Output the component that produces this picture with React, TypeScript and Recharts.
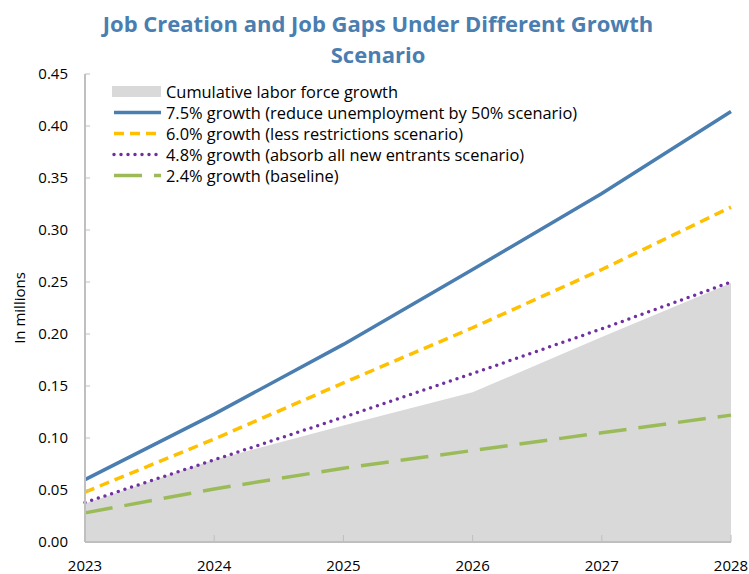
import {
  ComposedChart,
  Area,
  Line,
  XAxis,
  YAxis,
  Legend,
  Label,
} from 'recharts'

const YEARS = ['2023', '2024', '2025', '2026', '2027', '2028']
const LABOR_FORCE = [0.037, 0.079, 0.112, 0.144, 0.197, 0.249]
const GROWTH_75 = [0.06, 0.123, 0.19, 0.262, 0.335, 0.414]
const GROWTH_60 = [0.048, 0.099, 0.153, 0.206, 0.262, 0.322]
const GROWTH_48 = [0.038, 0.079, 0.12, 0.162, 0.205, 0.25]
const GROWTH_24 = [0.028, 0.051, 0.071, 0.088, 0.105, 0.122]
const Y_TICKS = [0, 0.05, 0.1, 0.15, 0.2, 0.25, 0.3, 0.35, 0.4, 0.45]

const FONT = '"Open Sans", "Noto Sans", sans-serif'
const AXIS_GRAY = '#bfbfbf'

const LINES = [
  { key: 'g75', name: '7.5% growth (reduce unemployment by 50% scenario)', color: '#4a7eb0', dash: undefined, cap: 'butt' },
  { key: 'g60', name: '6.0% growth (less restrictions scenario)', color: '#ffc000', dash: '10 6', cap: 'butt' },
  { key: 'g48', name: '4.8% growth (absorb all new entrants scenario)', color: '#7030a0', dash: '0 7', cap: 'round' },
  { key: 'g24', name: '2.4% growth (baseline)', color: '#9bbb59', dash: '28 12', cap: 'butt' },
]

const data = YEARS.map((year, i) => ({
  year,
  labor: LABOR_FORCE[i],
  g75: GROWTH_75[i],
  g60: GROWTH_60[i],
  g48: GROWTH_48[i],
  g24: GROWTH_24[i],
}))

function LegendBox() {
  return (
    <div style={{ fontFamily: FONT, fontSize: 16.4, lineHeight: '21px', color: '#000', whiteSpace: 'nowrap' }}>
      <div style={{ display: 'flex', alignItems: 'center', height: 21 }}>
        <svg width={50} height={21}>
          <rect x={0} y={5} width={49} height={11} fill="#d9d9d9" />
        </svg>
        <span style={{ marginLeft: 4 }}>Cumulative labor force growth</span>
      </div>
      {LINES.map((s) => (
        <div key={s.key} style={{ display: 'flex', alignItems: 'center', height: 21 }}>
          <svg width={50} height={21}>
            <line
              x1={2}
              x2={49}
              y1={10.5}
              y2={10.5}
              stroke={s.color}
              strokeWidth={3.5}
              strokeDasharray={s.dash}
              strokeLinecap={s.cap as any}
            />
          </svg>
          <span style={{ marginLeft: 4 }}>{s.name}</span>
        </div>
      ))}
    </div>
  )
}

export default function App() {
  return (
    <div style={{ position: 'absolute', left: 0, top: 0, width: 749, height: 574, background: '#fff' }}>
      <div
        style={{
          position: 'absolute',
          top: 8,
          left: 0,
          width: 756,
          textAlign: 'center',
          fontFamily: FONT,
          fontWeight: 700,
          fontSize: 22,
          lineHeight: '31px',
          color: '#4a7eb0',
        }}
      >
        Job Creation and Job Gaps Under Different Growth
        <br />
        Scenario
      </div>
      <ComposedChart
        width={749}
        height={574}
        data={data}
        margin={{ top: 74, right: 18, bottom: 0, left: 0 }}
        style={{ fontFamily: FONT }}
      >
        <XAxis
          dataKey="year"
          scale="point"
          padding={{ left: 0, right: 0 }}
          height={32}
          interval={0}
          axisLine={{ stroke: AXIS_GRAY, strokeWidth: 2 }}
          tickLine={{ stroke: AXIS_GRAY, strokeWidth: 1 }}
          tickSize={-7}
          tickMargin={25}
          tick={{ fill: '#000', fontSize: 15 }}
        />
        <XAxis
          xAxisId="top"
          dataKey="year"
          orientation="top"
          scale="point"
          height={0}
          tick={false}
          tickLine={false}
          axisLine={{ stroke: AXIS_GRAY, strokeWidth: 2 }}
        />
        <YAxis
          domain={[0, 0.45]}
          ticks={Y_TICKS}
          width={85}
          interval={0}
          tickFormatter={(v: number) => v.toFixed(2)}
          axisLine={{ stroke: AXIS_GRAY, strokeWidth: 2 }}
          tickLine={{ stroke: AXIS_GRAY, strokeWidth: 1 }}
          tickSize={-5}
          tickMargin={22}
          tick={{ fill: '#000', fontSize: 15 }}
        >
          <Label
            value="In millions"
            angle={-90}
            position="center"
            dx={-23}
            style={{ fill: '#000', fontSize: 15, fontFamily: FONT }}
          />
        </YAxis>
        <YAxis
          yAxisId="right"
          orientation="right"
          width={0}
          domain={[0, 0.45]}
          tick={false}
          tickLine={false}
          axisLine={{ stroke: AXIS_GRAY, strokeWidth: 2 }}
        />
        <Legend
          layout="vertical"
          align="center"
          verticalAlign="middle"
          content={() => <LegendBox />}
          wrapperStyle={{ top: 81, left: 112, width: 'auto', height: 'auto' }}
        />
        <Area
          type="linear"
          dataKey="labor"
          name="Cumulative labor force growth"
          fill="#d9d9d9"
          fillOpacity={1}
          stroke="none"
          isAnimationActive={false}
        />
        {LINES.map((s) => (
          <Line
            key={s.key}
            type="linear"
            dataKey={s.key}
            name={s.name}
            stroke={s.color}
            strokeWidth={3.5}
            strokeDasharray={s.dash}
            strokeLinecap={s.cap as any}
            dot={false}
            activeDot={false}
            isAnimationActive={false}
          />
        ))}
      </ComposedChart>
    </div>
  )
}
